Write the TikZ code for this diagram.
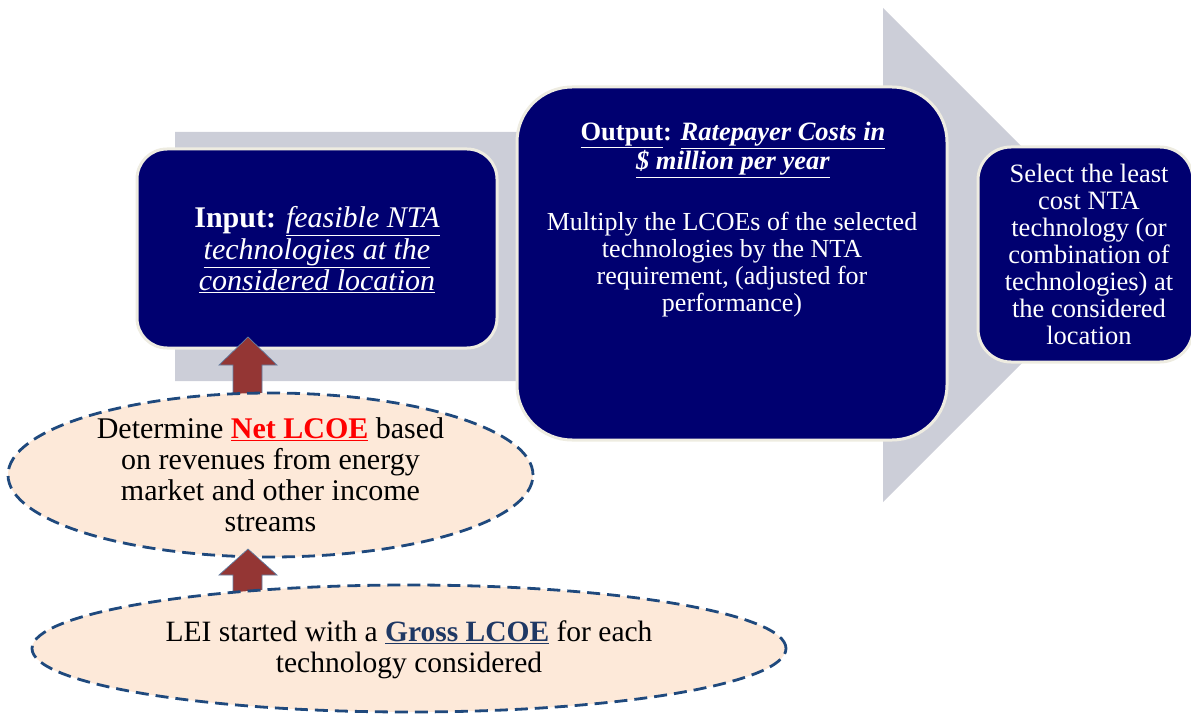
\documentclass[tikz,border=0pt]{standalone}
\usepackage{fontspec}
\setmainfont{Liberation Serif}
\usetikzlibrary{shapes.geometric}
\definecolor{navy}{RGB}{0,0,112}
\definecolor{cream}{RGB}{238,236,225}
\definecolor{graybg}{RGB}{204,206,216}
\definecolor{brick}{RGB}{148,54,52}
\definecolor{peach}{RGB}{253,233,217}
\definecolor{dashblue}{RGB}{31,73,125}
\definecolor{grossblue}{RGB}{31,56,100}
\definecolor{netred}{RGB}{255,0,0}
\tikzset{
  navybox/.style={draw=cream, line width=3pt, fill=navy, inner sep=0pt},
  boxtext/.style={text=white, align=center, inner sep=0pt},
  dashell/.style={ellipse, draw=dashblue, line width=2.8pt, dash pattern=on 13pt off 7pt, fill=peach, inner sep=0pt},
  elltext/.style={text=black, align=center, inner sep=0pt},
  blockarrow/.style={fill=brick, draw=dashblue!70, line width=0.7pt}
}
\begin{document}
\begin{tikzpicture}[x=1pt,y=-1pt]
\useasboundingbox (0,0) rectangle (1191,719);
% big gray arrow
\fill[graybg] (175,132) -- (883,132) -- (883,8) -- (1130,255) -- (883,502) -- (883,381) -- (175,381) -- cycle;
% boxes
\node[navybox, rounded corners=30pt, minimum width=360pt, minimum height=199pt] (inbox) at (317,248.5) {};
\node[boxtext, font=\fontsize{30}{31.5}\selectfont] (intext) at (317,250)
  {\textbf{Input:} \textit{\underline{feasible NTA}}\\ \textit{\underline{technologies at the}}\\ \textit{\underline{considered location}}};
\node[navybox, rounded corners=55pt, minimum width=430pt, minimum height=353pt] (outbox) at (732,263.5) {};
\node[boxtext, anchor=north, font=\fontsize{26.5}{29}\selectfont] (outtitle) at (733,122)
  {\underline{\textbf{Output}}\textbf{:} \underline{\textbf{\textit{Ratepayer Costs in}}}\\ \underline{\textbf{\textit{\$ million per year}}}};
\node[boxtext, anchor=north, font=\fontsize{26}{27}\selectfont] (outbody) at (732,212)
  {Multiply the LCOEs of the selected\\ technologies by the NTA\\ requirement, (adjusted for\\ performance)};
\node[navybox, rounded corners=33pt, minimum width=215pt, minimum height=215pt] (selbox) at (1085.5,254.5) {};
\node[boxtext, font=\fontsize{26.5}{27}\selectfont] (seltext) at (1089,254)
  {Select the least\\ cost NTA\\ technology (or\\ combination of\\ technologies) at\\ the considered\\ location};
% arrow from net ellipse to input box
\coordinate (a1tip) at (248,337);
\fill[blockarrow] (a1tip) -- (277,365) -- (262,365) -- (262,400) -- (233,400) -- (233,365) -- (219,365) -- cycle;
% net LCOE ellipse
\node[dashell, minimum width=525pt, minimum height=164pt] (netell) at (270.5,475) {};
\node[elltext, font=\fontsize{30}{31}\selectfont] (nettext) at (270.5,475)
  {Determine \textcolor{netred}{\underline{\textbf{Net LCOE}}} based\\ on revenues from energy\\ market and other income\\ streams};
% arrow from gross ellipse to net ellipse
\coordinate (a2tip) at (248,549);
\fill[blockarrow] (a2tip) -- (277,575) -- (262,575) -- (262,605) -- (233,605) -- (233,575) -- (219,575) -- cycle;
% gross LCOE ellipse
\node[dashell, minimum width=754pt, minimum height=127pt] (grossell) at (409,648.5) {};
\node[elltext, font=\fontsize{29.5}{31}\selectfont] (grosstext) at (409,650)
  {LEI started with a \textcolor{grossblue}{\underline{\textbf{Gross LCOE}}} for each\\ technology considered};
\end{tikzpicture}
\end{document}
